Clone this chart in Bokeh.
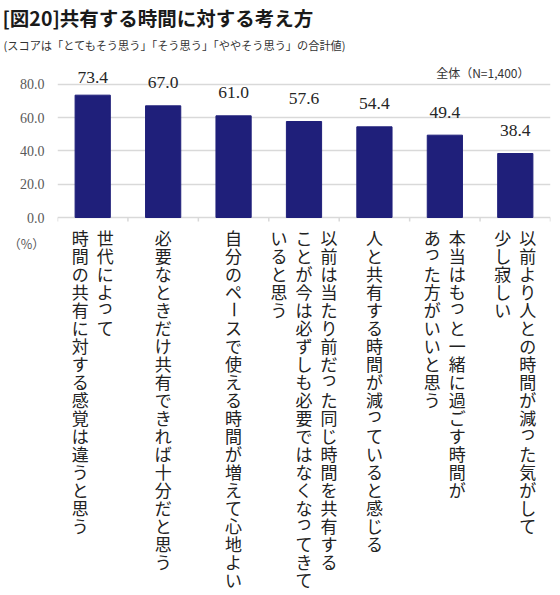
import numpy as np
from bokeh.plotting import figure
from bokeh.layouts import column
from bokeh.models import (ColumnDataSource, Range1d, FixedTicker,
                          NumeralTickFormatter)
from bokeh.core.properties import value
from bokeh.embed import file_html
from bokeh.resources import INLINE

# ---------------- data ----------------
title_text = "[図20]共有する時間に対する考え方"
subtitle_text = "(スコアは「とてもそう思う」「そう思う」「ややそう思う」の合計値)"
note_text = "全体（N=1,400）"
unit_text = "（%）"

# category labels, written vertically; columns listed in reading order (right to left)
label_lines = [
    ["世代によって", "時間の共有に対する感覚は違うと思う"],
    ["必要なときだけ共有できれば十分だと思う"],
    ["自分のペースで使える時間が増えて心地よい"],
    ["以前は当たり前だった同じ時間を共有する", "ことが今は必ずしも必要ではなくなってきて", "いると思う"],
    ["人と共有する時間が減っていると感じる"],
    ["本当はもっと一緒に過ごす時間が", "あった方がいいと思う"],
    ["以前より人との時間が減った気がして", "少し寂しい"],
]
categories = ["".join(c) for c in label_lines]
values = [73.4, 67.0, 61.0, 57.6, 54.4, 49.4, 38.4]
y_ticks = [0, 20, 40, 60, 80]

# ---------------- layout ----------------
W, H = 560, 595
LEFT, RIGHT = 57, 10
ZERO_PX = 217            # canvas y of value 0
HEAD_PX = 62             # bottom of the header strip
CHART_PX = 226           # bottom of the chart strip
PXU = 150 / 90           # pixels per value unit
N = len(categories)
CAT_PX = (W - LEFT - RIGHT) / N

JP = "Noto Sans CJK JP"
SERIF = "Liberation Serif"
BAR = "#1f1f7a"
GRID = "#d9d9d9"


def dx(px):
    return (px - LEFT) / CAT_PX


def dy(px):
    return (ZERO_PX - px) / PXU


FULL_X = (dx(0), dx(W))


def strip(top_px, bottom_px):
    f = figure(width=W, height=bottom_px - top_px, output_backend="svg",
               toolbar_location=None, x_range=Range1d(*FULL_X),
               y_range=Range1d(dy(bottom_px), dy(top_px)), min_border=0,
               x_axis_location=None, y_axis_location=None, frame_align=False)
    f.grid.visible = False
    f.outline_line_color = None
    f.border_fill_color = "white"
    return f


# ---------------- header ----------------
head = strip(0, HEAD_PX)
head.text(x=[dx(2)], y=[dy(17)], text=[title_text], text_align="left",
          text_baseline="middle", text_font=value(JP), text_font_size="19.5px",
          text_font_style="bold", text_color="#1a1a1a")
head.text(x=[dx(3)], y=[dy(44)], text=[subtitle_text], text_align="left",
          text_baseline="middle", text_font=value(JP), text_font_size="11.2px",
          text_color="#333333")

# ---------------- chart ----------------
p = figure(width=W, height=CHART_PX - HEAD_PX, output_backend="svg",
           toolbar_location=None, x_range=Range1d(0, N),
           y_range=Range1d(dy(CHART_PX), dy(HEAD_PX)), x_axis_location=None,
           min_border_left=LEFT, min_border_right=RIGHT,
           min_border_top=0, min_border_bottom=0, frame_align=False)
p.outline_line_color = None
p.border_fill_color = "white"
p.xgrid.visible = False
ax = p.yaxis[0]
ax.ticker = FixedTicker(ticks=y_ticks)
ax.formatter = NumeralTickFormatter(format="0.0")
ax.axis_line_color = None
ax.major_tick_line_color = None
ax.minor_tick_line_color = None
ax.major_tick_out = 0
ax.major_tick_in = 0
ax.major_label_standoff = 13
ax.major_label_text_font = SERIF
ax.major_label_text_font_size = "14px"
ax.major_label_text_color = "#595959"
p.ygrid.grid_line_color = GRID
p.ygrid.grid_line_width = 1.5

# x tick marks at category boundaries
bounds = np.arange(N + 1)
p.segment(x0=bounds, y0=np.zeros(N + 1), x1=bounds, y1=np.full(N + 1, -4 / PXU),
          line_color=GRID, line_width=1.5)

xc = np.arange(N) + 0.5
src = ColumnDataSource(dict(x=xc, top=values,
                            lab=[f"{v:.1f}" for v in values],
                            ly=[min(v + 23 / PXU, dy(77)) for v in values]))
p.vbar(x="x", top="top", width=0.5, source=src, fill_color=BAR, line_color=BAR)
p.text(x="x", y="ly", text="lab", source=src, text_align="center",
       text_baseline="middle", text_font=value(SERIF), text_font_size="17.5px",
       text_color="#262626")
p.text(x=[dx(529)], y=[dy(72)], text=[note_text], text_align="right",
       text_baseline="middle", text_font=value(JP), text_font_size="12px",
       text_color="#333333")

# ---------------- vertical category labels ----------------
low = strip(CHART_PX, H)
SMALL = set("っゃゅょぁぃぅぇぉ")
FIRST_PX, PITCH_PX, COL_PX = 237.0, 18.0, 25.0
cx, cy, ch, ca = [], [], [], []
for i, cols in enumerate(label_lines):
    n = len(cols)
    for j, line in enumerate(cols):
        x = i + 0.5 + ((n - 1) / 2 - j) * COL_PX / CAT_PX
        for k, c in enumerate(line):
            ypx = FIRST_PX + k * PITCH_PX - (4 if c in SMALL else 0)
            cx.append(x)
            cy.append(dy(ypx))
            ch.append(c)
            ca.append(np.pi / 2 if c == "ー" else 0.0)
csrc = ColumnDataSource(dict(x=cx, y=cy, t=ch, a=ca))
low.text(x="x", y="y", text="t", angle="a", source=csrc, text_align="center",
         text_baseline="middle", text_font=value(JP), text_font_size="17px",
         text_color="#222222")
low.text(x=[dx(26)], y=[dy(243)], text=[unit_text], text_align="center",
         text_baseline="middle", text_font=value(JP), text_font_size="12.5px",
         text_color="#595959")

layout = column(head, p, low, spacing=0)
open("out.html", "w").write(file_html(layout, INLINE))
